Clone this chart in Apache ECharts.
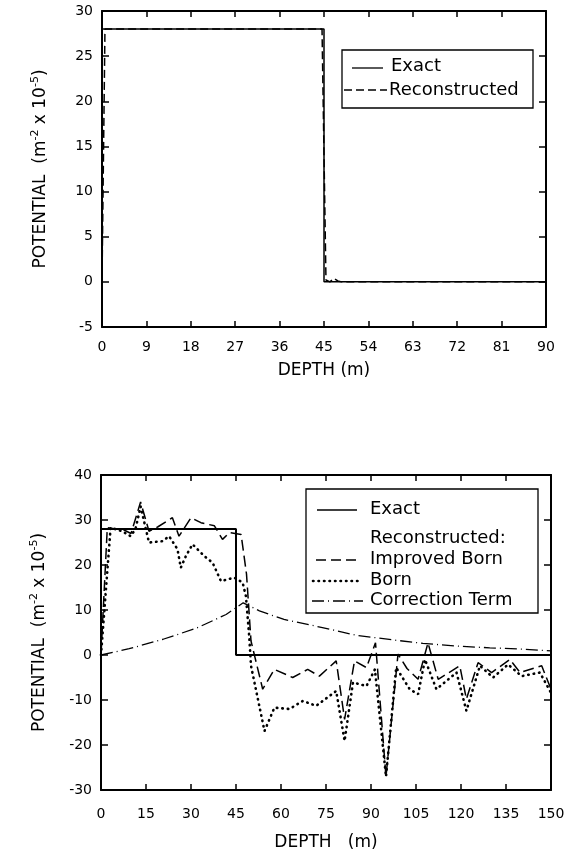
<!DOCTYPE html>
<html>
<head>
<meta charset="utf-8">
<script src="https://cdn.jsdelivr.net/npm/echarts@6/dist/echarts.min.js"></script>
<style>html,body{margin:0;padding:0;background:#fff}#c{width:572px;height:852px}</style>
</head>
<body>
<div id="c"></div>
<script>
// ---- Top panel data ----
const topExactDepth = [0, 0, 45, 45, 90];
const topExactValue = [0, 28, 28, 0, 0];
const topReconDepth = [0, 0.6, 44.6, 45.4, 46.2, 47, 47.8, 48.6, 90];
const topReconValue = [0, 28, 28, 0.2, 0, 0.4, 0.1, 0, 0];
const topXTicks = [0, 9, 18, 27, 36, 45, 54, 63, 72, 81, 90];
const topYTicks = [-5, 0, 5, 10, 15, 20, 25, 30];

// ---- Bottom panel data ----
const botExactDepth = [0, 0, 45, 45, 150];
const botExactValue = [0, 28, 28, 0, 0];
const improvedDepth = [0, 2.1, 5, 7, 10, 13.2, 16, 19, 23.8, 26, 30, 33.3, 37.8, 40.5, 42.8, 46.7, 48.5, 50, 53.9, 57.8, 63.9, 68.9, 72.8, 78.4, 81.2, 84.5, 88.5, 91.5, 95, 99, 102, 105.7, 109, 112.4, 119.6, 121.8, 125.7, 130.2, 136.3, 139.7, 146.9, 150];
const improvedValue = [0, 28.3, 28, 28, 27, 34, 27.5, 28.5, 30.5, 26.4, 30.5, 29.4, 28.7, 25.7, 27.2, 26.8, 18, 3.1, -7.6, -3.2, -5, -3.2, -4.7, -1.3, -14.3, -1.3, -2.8, 2.7, -27, 0.2, -3, -5.4, 2.7, -5.4, -2.4, -9.8, -1.7, -3.9, -1, -3.9, -2.4, -7.6];
const bornDepth = [0, 3.2, 7.1, 9.9, 11.5, 13.2, 16, 20.5, 22.7, 25.5, 26.6, 28.3, 30.5, 34.4, 37.2, 40, 44.4, 47.2, 48.3, 49.4, 50, 54.5, 57.8, 62.8, 67.3, 71.7, 78.4, 81.2, 84, 88.5, 91.3, 95, 98.4, 102.9, 105.7, 108, 111.8, 118.5, 121.8, 126.3, 130.7, 135.7, 140.2, 146.3, 150];
const bornValue = [0, 28.3, 27.5, 26.4, 28, 33, 25, 25.3, 26.4, 23.5, 19.4, 22, 24.6, 22, 20.5, 16.4, 17.2, 16.1, 13.1, 4.2, -2.4, -16.9, -11.7, -12, -10.2, -11.3, -8, -19.1, -6.1, -6.9, -3.2, -27, -2.8, -7.6, -8.7, -1, -7.6, -3.9, -12.4, -2.4, -5, -2.1, -4.7, -3.9, -8.4];
const corrDepth = [0, 9.4, 20.7, 31.6, 41.7, 47.4, 52.8, 61, 73.8, 85, 97.9, 107.3, 118, 129.6, 141, 150];
const corrValue = [0, 1.4, 3.5, 5.9, 9, 11.6, 9.8, 7.9, 6.1, 4.4, 3.3, 2.6, 2, 1.6, 1.3, 0.9];
const botXTicks = [0, 15, 30, 45, 60, 75, 90, 105, 120, 135, 150];
const botYTicks = [-30, -20, -10, 0, 10, 20, 30, 40];

const xName1 = 'DEPTH (m)';
const xName2 = 'DEPTH   (m)';
const yName = '{a|POTENTIAL  (m}{s|-2}{a| x 10}{s|-5}{a|)}';
const legendTop = ['Exact', 'Reconstructed'];
const legendBot = ['Exact', 'Reconstructed:', 'Improved Born', 'Born', 'Correction Term'];

const FONT = 'DejaVu Sans';
const zip = (a, b) => a.map((v, i) => [v, b[i]]);

const chart = echarts.init(document.getElementById('c'), null, {renderer: 'canvas'});

function xAxes(gi, ticks, name, nameGap, margin) {
  const mn = ticks[0], mx = ticks[ticks.length - 1], iv = ticks[1] - ticks[0];
  return [{
    type: 'value', gridIndex: gi, min: mn, max: mx, interval: iv, position: 'bottom',
    name: name, nameLocation: 'middle', nameGap: nameGap,
    nameTextStyle: {fontFamily: FONT, fontSize: 17, color: '#000'},
    axisLine: {onZero: false, lineStyle: {color: '#000', width: 2}},
    axisTick: {inside: true, length: 6, lineStyle: {color: '#000', width: 1.5}},
    axisLabel: {fontFamily: FONT, fontSize: 14, color: '#000', margin: margin},
    splitLine: {show: false}
  }, {
    type: 'value', gridIndex: gi, min: mn, max: mx, interval: iv, position: 'top',
    axisLine: {onZero: false, lineStyle: {color: '#000', width: 2}},
    axisTick: {inside: true, length: 6, lineStyle: {color: '#000', width: 1.5}},
    axisLabel: {show: false}, splitLine: {show: false}
  }];
}
function yAxes(gi, ticks) {
  const mn = ticks[0], mx = ticks[ticks.length - 1], iv = ticks[1] - ticks[0];
  return [{
    type: 'value', gridIndex: gi, min: mn, max: mx, interval: iv, position: 'left',
    name: yName, nameLocation: 'middle', nameGap: 50, nameRotate: 90,
    nameTextStyle: {fontFamily: FONT, fontSize: 17, color: '#000',
      rich: {a: {fontFamily: FONT, fontSize: 17, color: '#000', lineHeight: 22},
             s: {fontFamily: FONT, fontSize: 11, color: '#000', verticalAlign: 'top', lineHeight: 12}}},
    axisLine: {onZero: false, lineStyle: {color: '#000', width: 2}},
    axisTick: {inside: true, length: 7, lineStyle: {color: '#000', width: 1.5}},
    axisLabel: {fontFamily: FONT, fontSize: 14, color: '#000', margin: 9},
    splitLine: {show: false}
  }, {
    type: 'value', gridIndex: gi, min: mn, max: mx, interval: iv, position: 'right',
    axisLine: {onZero: false, lineStyle: {color: '#000', width: 2}},
    axisTick: {inside: true, length: 7, lineStyle: {color: '#000', width: 1.5}},
    axisLabel: {show: false}, splitLine: {show: false}
  }];
}

const base = {type: 'line', symbol: 'none', silent: true, animation: false};

// legend graphics
const T = (x, y, text) => ({type: 'text', left: x, top: y - 11, style: {text: text, fontFamily: FONT, fontSize: 18, fill: '#000'}});
const L = (x1, x2, y, dash, w, cap) => ({type: 'line', shape: {x1: x1, y1: y, x2: x2, y2: y},
  style: {stroke: '#000', lineWidth: w || 1.3, lineDash: dash || null, lineCap: cap || 'butt'}});

const graphic = [
  {type: 'rect', shape: {x: 342, y: 50, width: 191, height: 58}, style: {fill: '#fff', stroke: '#000', lineWidth: 1.3}},
  L(352, 383, 68),
  T(391, 68, legendTop[0]),
  L(344, 387, 90, [8, 4]),
  T(389, 92, legendTop[1]),

  {type: 'rect', shape: {x: 306, y: 489, width: 232, height: 124}, style: {fill: '#fff', stroke: '#000', lineWidth: 1.3}},
  L(317, 357, 510),
  T(370, 511, legendBot[0]),
  T(370, 540, legendBot[1]),
  L(316, 357, 560, [10, 5]),
  T(370, 561, legendBot[2]),
  L(313, 360, 581, [0.5, 5], 2.6, 'round'),
  T(370, 582, legendBot[3]),
  L(312, 363, 601, [12, 4, 1, 4], 1.3),
  T(370, 602, legendBot[4])
];

const option = {
  animation: false,
  backgroundColor: '#fff',
  grid: [
    {left: 102, top: 11, width: 444, height: 316},
    {left: 101, top: 475, width: 450, height: 316}
  ],
  xAxis: [...xAxes(0, topXTicks, xName1, 35, 13), ...xAxes(1, botXTicks, xName2, 44, 17)],
  yAxis: [...yAxes(0, topYTicks), ...yAxes(1, botYTicks)],
  series: [
    {...base, name: 'Exact', xAxisIndex: 0, yAxisIndex: 0, data: zip(topExactDepth, topExactValue), lineStyle: {color: '#000', width: 1.5}},
    {...base, name: 'Reconstructed', xAxisIndex: 0, yAxisIndex: 0, data: zip(topReconDepth, topReconValue), lineStyle: {color: '#000', width: 1.5, type: [8, 4]}},
    {...base, name: 'Exact ', xAxisIndex: 2, yAxisIndex: 2, data: zip(botExactDepth, botExactValue), lineStyle: {color: '#000', width: 2}},
    {...base, name: 'Improved Born', xAxisIndex: 2, yAxisIndex: 2, data: zip(improvedDepth, improvedValue), lineStyle: {color: '#000', width: 1.5, type: [11, 5]}},
    {...base, name: 'Born', xAxisIndex: 2, yAxisIndex: 2, data: zip(bornDepth, bornValue), lineStyle: {color: '#000', width: 2.6, type: [0.5, 5], cap: 'round'}},
    {...base, name: 'Correction Term', xAxisIndex: 2, yAxisIndex: 2, data: zip(corrDepth, corrValue), lineStyle: {color: '#000', width: 1.3, type: [12, 4, 1, 4]}}
  ],
  graphic: graphic
};
chart.setOption(option);
</script>
</body>
</html>
